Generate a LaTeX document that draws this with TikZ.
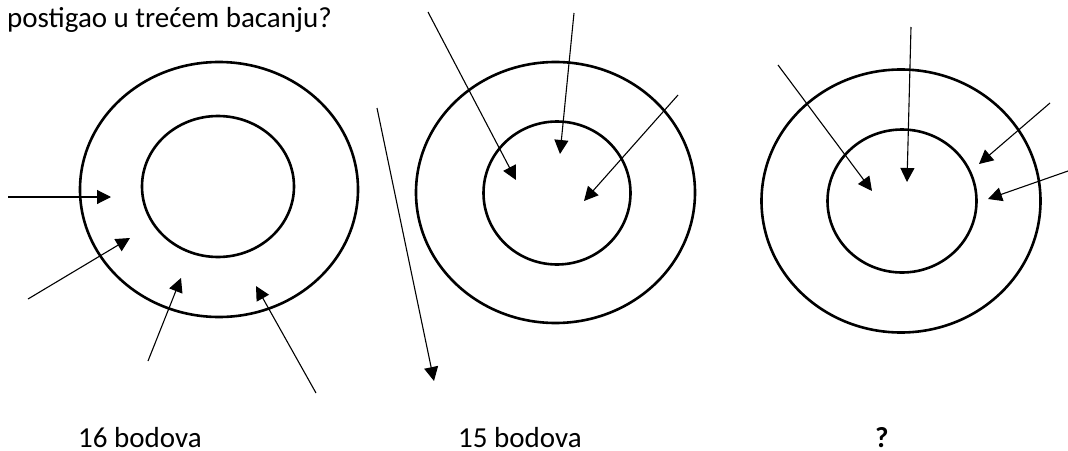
\documentclass[tikz,border=0pt]{standalone}
\usepackage{fontspec}
\setmainfont{Carlito}
\usepackage{tikz}
\usetikzlibrary{arrows.meta, shapes.geometric}

\begin{document}
\begin{tikzpicture}[
    x=1pt, y=-1pt,
    ring/.style={draw, ellipse, line width=2.6pt, inner sep=0pt},
    arrow/.style={-{Triangle[length=14pt, width=14pt]}, line width=1.1pt},
    label/.style={font=\fontsize{29}{34}\selectfont, anchor=base west, inner sep=0pt}
]
\useasboundingbox (0,0) rectangle (1068,450);
% Question line
\node[label] (q) at (7,27) {postigao u trećem bacanju?};
% Target 1
\node[ring, minimum width=278pt, minimum height=255pt] (outA) at (219,189.5) {};
\node[ring, minimum width=152pt, minimum height=141pt] (inA) at (218,186.5) {};
% Target 2
\node[ring, minimum width=279pt, minimum height=261pt] (outB) at (555.5,192.5) {};
\node[ring, minimum width=147pt, minimum height=143pt] (inB) at (557,193) {};
% Target 3
\node[ring, minimum width=279pt, minimum height=263pt] (outC) at (901,201) {};
\node[ring, minimum width=149pt, minimum height=143pt] (inC) at (902,201) {};
% Throws
\foreach \sx/\sy/\ex/\ey [count=\i] in {
    8/197/111/197, 28/299/130/238, 148/361/181/278, 316/393/256/286,
    377/108/434/381,
    428/12/516/180, 574/13/560/154, 678/95/584/201,
    778/65/872/191, 911/27/907/182, 1050/103/979/164, 1068/171/988/199}{
    \coordinate (s\i) at (\sx,\sy);
    \coordinate (t\i) at (\ex,\ey);
    \draw[arrow] (s\i) -- (t\i);
}
% Scores
\node[label] (scA) at (78,447) {16 bodova};
\node[label] (scB) at (458,447) {15 bodova};
\node[label, font=\fontsize{29}{34}\selectfont\bfseries] (scC) at (875,447) {?};
\end{tikzpicture}
\end{document}
